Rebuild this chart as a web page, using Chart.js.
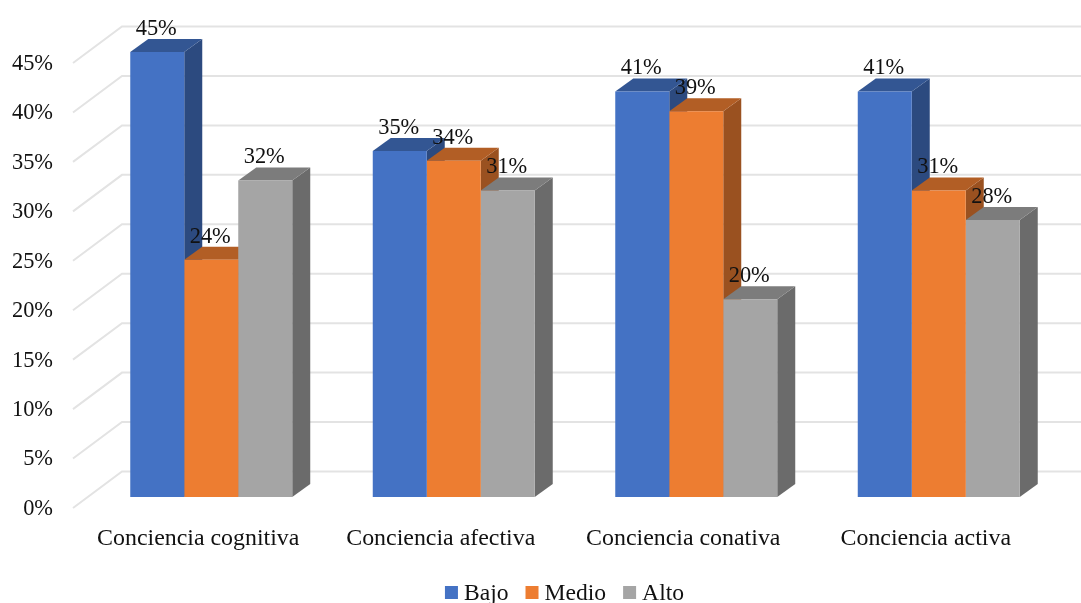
<!DOCTYPE html>
<html lang="es">
<head>
<meta charset="utf-8">
<title>Niveles de conciencia</title>
<script src="https://cdn.jsdelivr.net/npm/chart.js@4/dist/chart.umd.min.js"></script>
<style>
  html, body { margin: 0; padding: 0; background: #fff; overflow: hidden; }
  canvas { display: block; }
</style>
</head>
<body>
<canvas id="chart" width="1081" height="603"></canvas>
<script>
// Data
const categories = ['Conciencia cognitiva', 'Conciencia afectiva', 'Conciencia conativa', 'Conciencia activa'];
const bajo = [45, 35, 41, 41];
const medio = [24, 34, 39, 31];
const alto = [32, 31, 20, 28];
const seriesNames = ['Bajo', 'Medio', 'Alto'];

// Face colours per series: front, top, side
const frontColors = ['#4472C4', '#ED7D31', '#A5A5A5'];
const topColors = ['#335693', '#B25E25', '#7C7C7C'];
const sideColors = ['#2C4A7F', '#9A5120', '#6B6B6B'];

const FONT = '"Liberation Serif", "Times New Roman", serif';
const FONT_SIZE = 22.4;
const CATEGORY_SIZE = 23.9;
const LEGEND_SIZE = 23.6;
const TEXT_COLOR = '#111';
const DEPTH_X = 18, DEPTH_Y = 13; // bar extrusion

function poly(ctx, pts, fill) {
  ctx.beginPath();
  pts.forEach((p, i) => i ? ctx.lineTo(p[0], p[1]) : ctx.moveTo(p[0], p[1]));
  ctx.closePath();
  ctx.fillStyle = fill;
  ctx.fill();
}

// Walls of the 3D box: floor-to-wall diagonals and back lines
const gridPlugin = {
  id: 'grid3d',
  beforeDatasetsDraw(chart) {
    const {ctx, scales: {y}, width} = chart;
    ctx.save();
    ctx.strokeStyle = '#E3E3E3';
    ctx.lineWidth = 2;
    y.ticks.forEach(t => {
      const py = y.getPixelForValue(t.value);
      ctx.beginPath();
      ctx.moveTo(73, py + 11);
      ctx.lineTo(122, py - 25.5);
      ctx.lineTo(width, py - 25.5);
      ctx.stroke();
    });
    ctx.restore();
  }
};

// Side and top faces, left to right, so each bar covers the one before it.
// The fronts are the regular bar elements, painted after this.
const extrudePlugin = {
  id: 'extrude',
  beforeDatasetsDraw(chart) {
    const {ctx} = chart;
    ctx.save();
    chart.data.datasets.forEach((ds, d) => {
      chart.getDatasetMeta(d).data.forEach(bar => {
        const half = bar.width / 2;
        const l = bar.x - half, r = bar.x + half, t = bar.y, b = bar.base;
        poly(ctx, [[r, t], [r + DEPTH_X, t - DEPTH_Y], [r + DEPTH_X, b - DEPTH_Y], [r, b]], sideColors[d]);
        poly(ctx, [[l, t], [l + DEPTH_X, t - DEPTH_Y], [r + DEPTH_X, t - DEPTH_Y], [r, t]], topColors[d]);
      });
    });
    ctx.restore();
  }
};

// Value labels above each bar
const labelPlugin = {
  id: 'barLabels',
  afterDatasetsDraw(chart) {
    const {ctx} = chart;
    ctx.save();
    ctx.font = FONT_SIZE + 'px ' + FONT;
    ctx.fillStyle = TEXT_COLOR;
    ctx.textAlign = 'center';
    ctx.textBaseline = 'middle';
    chart.data.datasets.forEach((ds, d) => {
      chart.getDatasetMeta(d).data.forEach((bar, i) => {
        ctx.fillText(ds.data[i] + '%', bar.x - 1, bar.y - 23);
      });
    });
    ctx.restore();
  }
};

// Legend row: the built-in one leaves too wide a gap after the swatch
const legendPlugin = {
  id: 'legendRow',
  afterDraw(chart) {
    const {ctx} = chart;
    const box = 13, gap = 6, spacing = 17, midY = 592;
    ctx.save();
    ctx.font = LEGEND_SIZE + 'px ' + FONT;
    ctx.textBaseline = 'middle';
    ctx.textAlign = 'left';
    const widths = seriesNames.map(n => ctx.measureText(n).width);
    const total = widths.reduce((s, w) => s + w + box + gap, 0) + spacing * (seriesNames.length - 1);
    let x = 564.5 - total / 2;
    seriesNames.forEach((n, i) => {
      ctx.fillStyle = frontColors[i];
      ctx.fillRect(x, midY - 6, box, box);
      ctx.fillStyle = TEXT_COLOR;
      ctx.fillText(n, x + box + gap, midY + 1.5);
      x += box + gap + widths[i] + spacing;
    });
    ctx.restore();
  }
};

new Chart(document.getElementById('chart'), {
  type: 'bar',
  data: {
    labels: categories,
    datasets: [bajo, medio, alto].map((values, i) => ({
      label: seriesNames[i],
      data: values,
      backgroundColor: frontColors[i],
      borderWidth: 0,
      barPercentage: 1,
      categoryPercentage: 0.668
    }))
  },
  options: {
    responsive: false,
    animation: false,
    layout: {padding: {top: 52, right: 21, left: 0, bottom: 0}},
    plugins: {legend: {display: false}, tooltip: {enabled: false}},
    scales: {
      x: {
        grid: {display: false, drawTicks: false},
        border: {display: false},
        ticks: {
          font: {family: FONT, size: CATEGORY_SIZE},
          color: TEXT_COLOR,
          padding: 27,
          labelOffset: -13,
          maxRotation: 0,
          autoSkip: false
        },
        afterFit(s) { s.height = 106; }
      },
      y: {
        min: 0,
        max: 45,
        grid: {display: false, drawTicks: false},
        border: {display: false},
        ticks: {
          font: {family: FONT, size: FONT_SIZE},
          color: TEXT_COLOR,
          stepSize: 5,
          padding: 37,
          labelOffset: 12,
          callback: v => v + '%'
        },
        afterFit(s) { s.width = 90; }
      }
    }
  },
  plugins: [gridPlugin, extrudePlugin, labelPlugin, legendPlugin]
});
</script>
</body>
</html>
